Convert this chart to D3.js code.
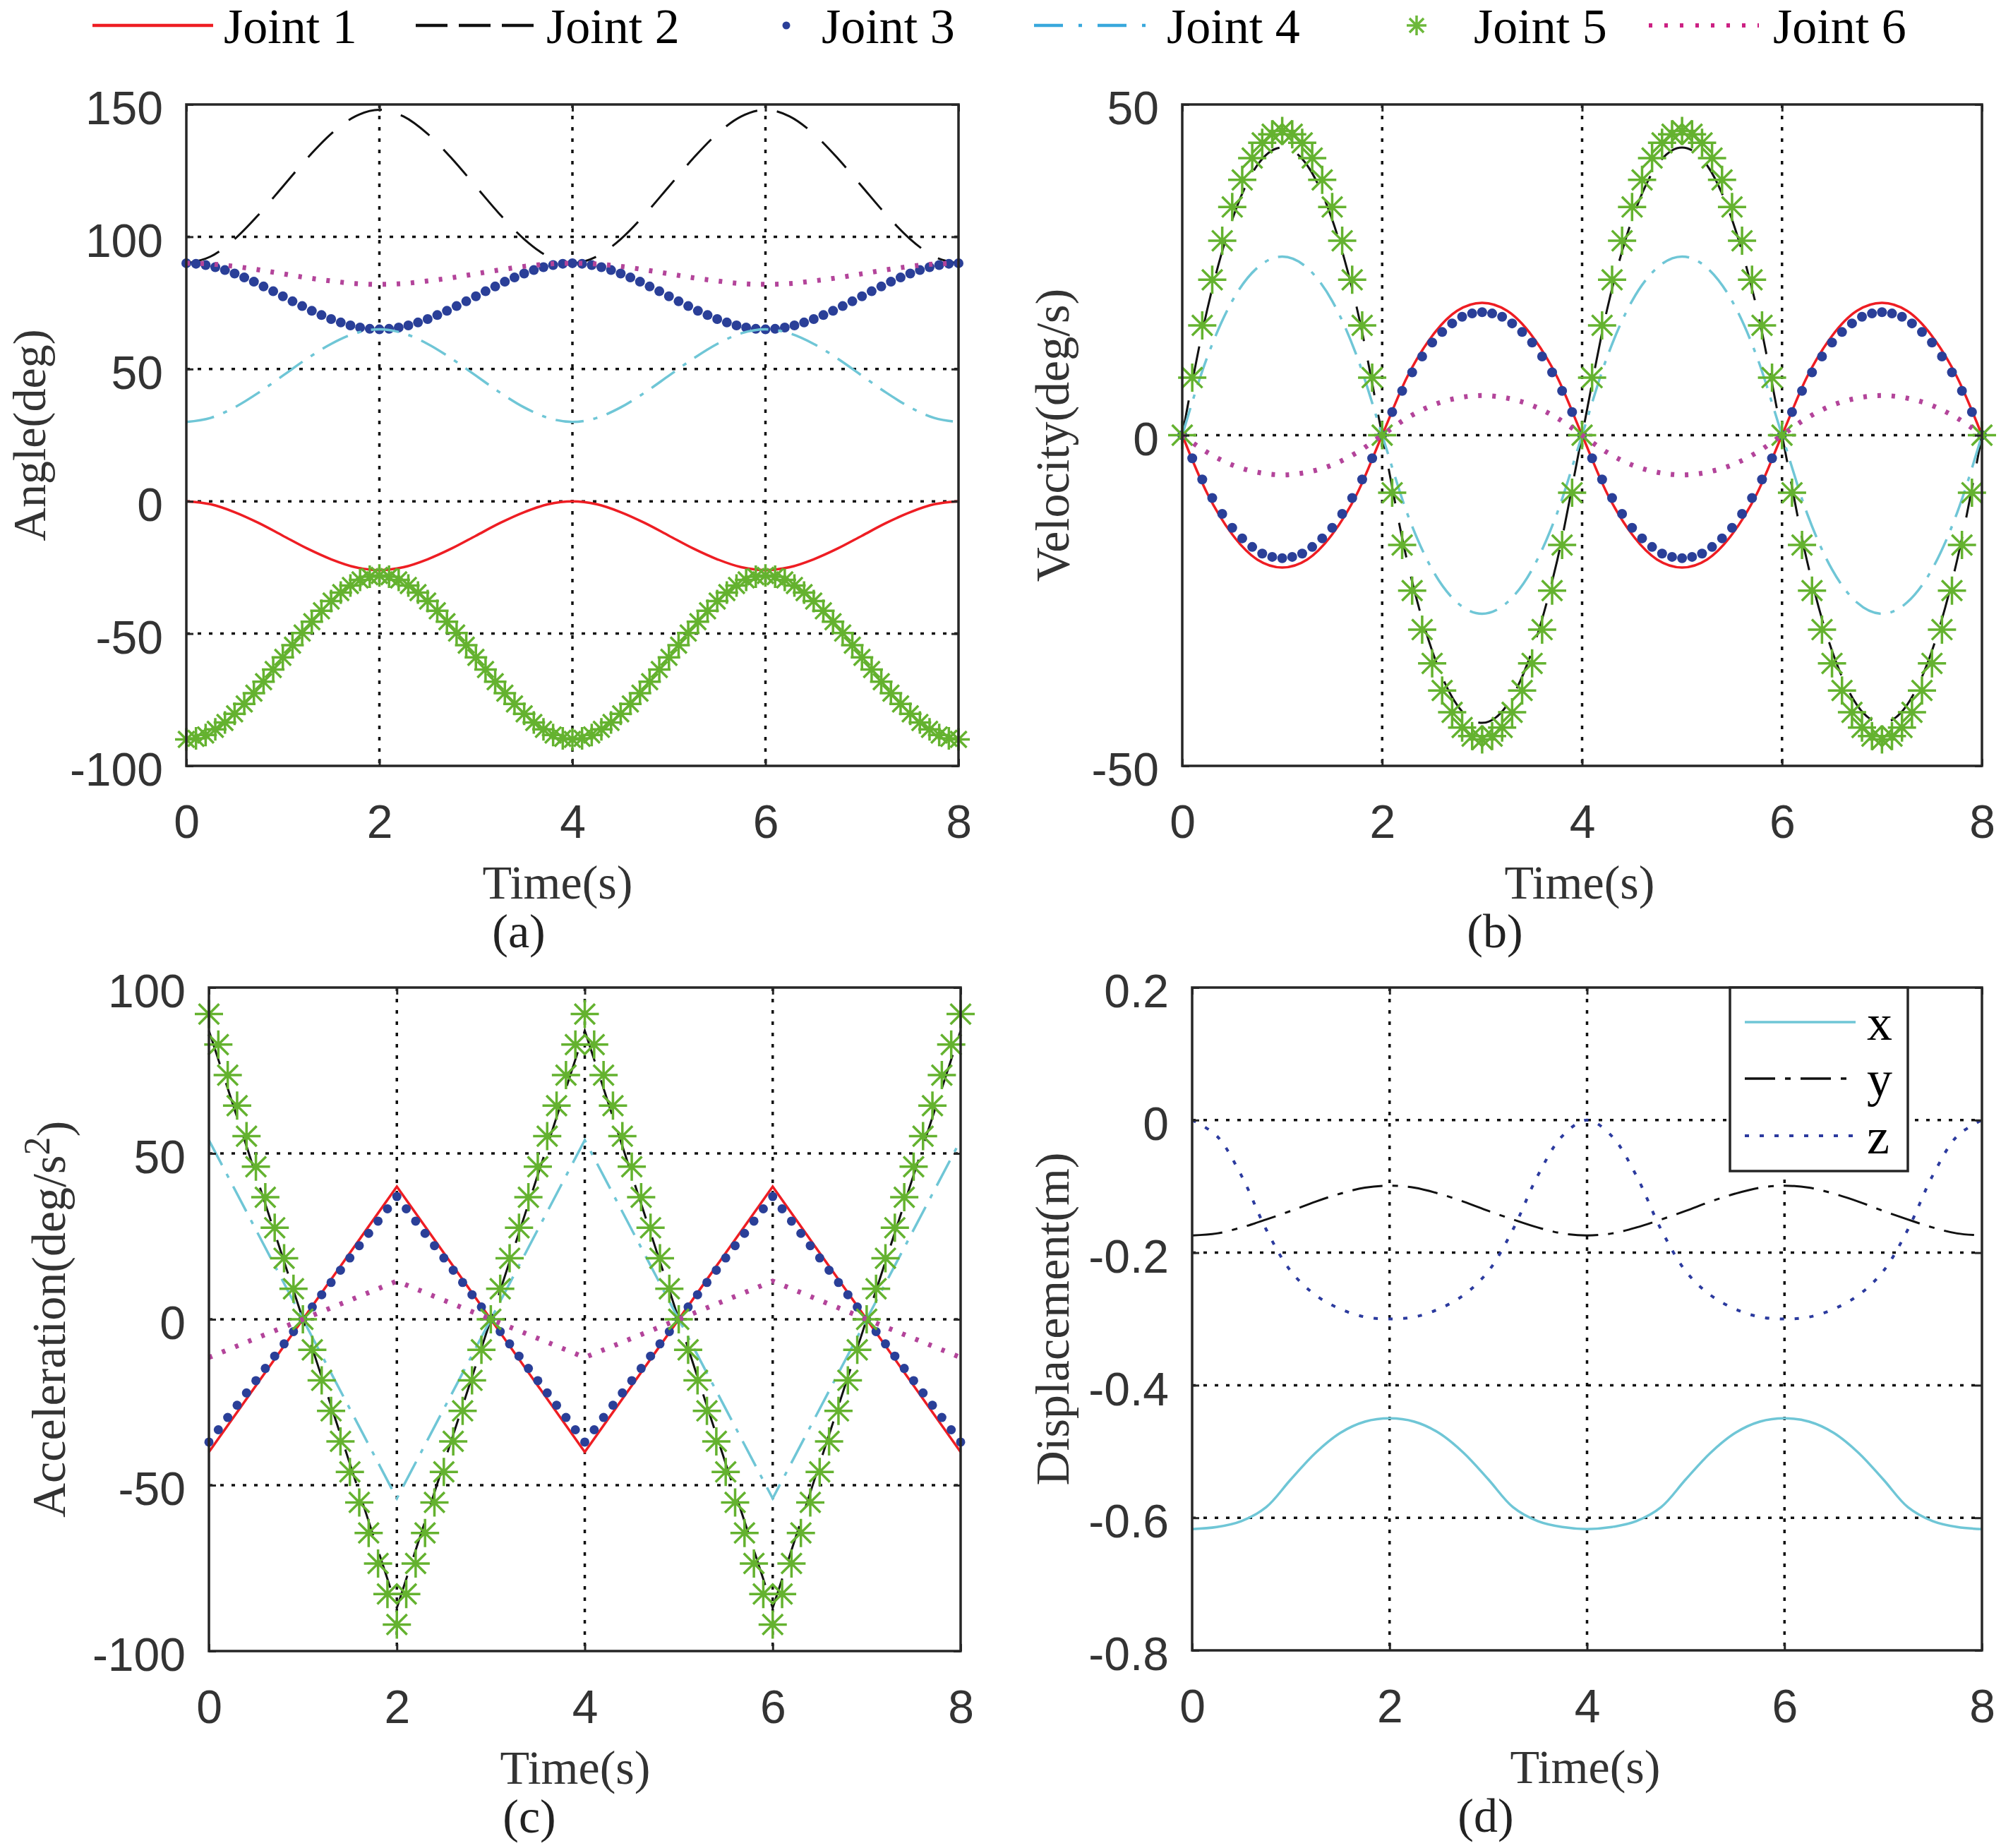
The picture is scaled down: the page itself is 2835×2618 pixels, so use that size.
<!DOCTYPE html>
<html><head><meta charset="utf-8">
<script src="https://cdn.jsdelivr.net/npm/d3@7"></script>
<style>body{margin:0;background:#fff}</style>
</head><body>
<svg id="chart" width="2835" height="2618" xmlns="http://www.w3.org/2000/svg"></svg>
<script>
// ---------------- DATA ----------------
const timeFine = [0,0.1,0.2,0.3,0.4,0.5,0.6,0.7,0.8,0.9,1,1.1,1.2,1.3,1.4,1.5,1.6,1.7,1.8,1.9,2,2.1,2.2,2.3,2.4,2.5,2.6,2.7,2.8,2.9,3,3.1,3.2,3.3,3.4,3.5,3.6,3.7,3.8,3.9,4,4.1,4.2,4.3,4.4,4.5,4.6,4.7,4.8,4.9,5,5.1,5.2,5.3,5.4,5.5,5.6,5.7,5.8,5.9,6,6.1,6.2,6.3,6.4,6.5,6.6,6.7,6.8,6.9,7,7.1,7.2,7.3,7.4,7.5,7.6,7.7,7.8,7.9,8];
const timeCoarse = [0,0.25,0.5,0.75,1,1.25,1.5,1.75,2,2.25,2.5,2.75,3,3.25,3.5,3.75,4,4.25,4.5,4.75,5,5.25,5.5,5.75,6,6.25,6.5,6.75,7,7.25,7.5,7.75,8];
const timeCorners = [0,2,4,6,8];

const xTicks = [0,2,4,6,8];
const angleTicks = [-100,-50,0,50,100,150];
const velocityTicks = [-50,0,50];
const accelTicks = [-100,-50,0,50,100];
const dispTicks = [-0.8,-0.6,-0.4,-0.2,0,0.2];

const jointNames = ["Joint 1","Joint 2","Joint 3","Joint 4","Joint 5","Joint 6"];
const dispNames = ["x","y","z"];
const panelTags = ["(a)","(b)","(c)","(d)"];

// (a) Angle (deg)
const angleJ1 = [0,-1.1,-4.1,-8.2,-13.0,-17.8,-21.9,-24.9,-26.0,-24.9,-21.9,-17.8,-13.0,-8.2,-4.1,-1.1,0,-1.1,-4.1,-8.2,-13.0,-17.8,-21.9,-24.9,-26.0,-24.9,-21.9,-17.8,-13.0,-8.2,-4.1,-1.1,0];
const angleJ2 = [90,92.5,99.1,108.4,119.0,129.6,138.9,145.5,148.0,145.5,138.9,129.6,119.0,108.4,99.1,92.5,90,92.5,99.1,108.4,119.0,129.6,138.9,145.5,148.0,145.5,138.9,129.6,119.0,108.4,99.1,92.5,90];
const angleJ3 = [90,89.8,89.3,88.5,87.4,86.1,84.6,83.0,81.2,79.4,77.5,75.6,73.8,72.0,70.4,68.9,67.6,66.5,65.7,65.2,65.0,
  65.2,65.7,66.5,67.6,68.9,70.4,72.0,73.8,75.6,77.5,79.4,81.2,83.0,84.6,86.1,87.4,88.5,89.3,89.8,90,
  89.8,89.3,88.5,87.4,86.1,84.6,83.0,81.2,79.4,77.5,75.6,73.8,72.0,70.4,68.9,67.6,66.5,65.7,65.2,65.0,
  65.2,65.7,66.5,67.6,68.9,70.4,72.0,73.8,75.6,77.5,79.4,81.2,83.0,84.6,86.1,87.4,88.5,89.3,89.8,90];
const angleJ4 = [30,31.5,35.5,41.1,47.5,53.9,59.5,63.5,65.0,63.5,59.5,53.9,47.5,41.1,35.5,31.5,30,31.5,35.5,41.1,47.5,53.9,59.5,63.5,65.0,63.5,59.5,53.9,47.5,41.1,35.5,31.5,30];
const angleJ5 = [-90,-89.6,-88.3,-86.2,-83.6,-80.3,-76.6,-72.5,-68.2,-63.6,-59.0,-54.4,-49.8,-45.5,-41.4,-37.7,-34.5,-31.8,-29.7,-28.5,-28.0,
  -28.5,-29.7,-31.8,-34.5,-37.7,-41.4,-45.5,-49.8,-54.4,-59.0,-63.6,-68.2,-72.5,-76.6,-80.3,-83.6,-86.2,-88.3,-89.6,-90,
  -89.6,-88.3,-86.2,-83.6,-80.3,-76.6,-72.5,-68.2,-63.6,-59.0,-54.4,-49.8,-45.5,-41.4,-37.7,-34.5,-31.8,-29.7,-28.5,-28.0,
  -28.5,-29.7,-31.8,-34.5,-37.7,-41.4,-45.5,-49.8,-54.4,-59.0,-63.6,-68.2,-72.5,-76.6,-80.3,-83.6,-86.2,-88.3,-89.6,-90];
const angleJ6 = [90,89.7,88.8,87.5,86.0,84.5,83.3,82.3,82.0,82.3,83.3,84.5,86.0,87.5,88.8,89.7,90,89.7,88.8,87.5,86.0,84.5,83.3,82.3,82.0,82.3,83.3,84.5,86.0,87.5,88.8,89.7,90];

// (b) Velocity (deg/s)
const velJ1 = [0,-8.8,-15.0,-18.8,-20.0,-18.8,-15.0,-8.8,0,8.8,15.0,18.8,20.0,18.8,15.0,8.8,0,-8.8,-15.0,-18.8,-20.0,-18.8,-15.0,-8.8,0,8.8,15.0,18.8,20.0,18.8,15.0,8.8,0];
const velJ2 = [0,19.0,32.6,40.8,43.5,40.8,32.6,19.0,0,-19.0,-32.6,-40.8,-43.5,-40.8,-32.6,-19.0,0,19.0,32.6,40.8,43.5,40.8,32.6,19.0,0,-19.0,-32.6,-40.8,-43.5,-40.8,-32.6,-19.0,0];
const velJ3 = [0,-3.5,-6.7,-9.5,-11.9,-14.0,-15.6,-16.9,-17.9,-18.4,-18.6,-18.4,-17.9,-16.9,-15.6,-14.0,-11.9,-9.5,-6.7,-3.5,0,
  3.5,6.7,9.5,11.9,14.0,15.6,16.9,17.9,18.4,18.6,18.4,17.9,16.9,15.6,14.0,11.9,9.5,6.7,3.5,0,
  -3.5,-6.7,-9.5,-11.9,-14.0,-15.6,-16.9,-17.9,-18.4,-18.6,-18.4,-17.9,-16.9,-15.6,-14.0,-11.9,-9.5,-6.7,-3.5,0,
  3.5,6.7,9.5,11.9,14.0,15.6,16.9,17.9,18.4,18.6,18.4,17.9,16.9,15.6,14.0,11.9,9.5,6.7,3.5,0];
const velJ4 = [0,11.8,20.3,25.3,27.0,25.3,20.3,11.8,0,-11.8,-20.3,-25.3,-27.0,-25.3,-20.3,-11.8,0,11.8,20.3,25.3,27.0,25.3,20.3,11.8,0,-11.8,-20.3,-25.3,-27.0,-25.3,-20.3,-11.8,0];
const velJ5 = [0,8.7,16.6,23.5,29.4,34.5,38.6,41.9,44.2,45.5,46.0,45.5,44.2,41.9,38.6,34.5,29.4,23.5,16.6,8.7,0,
  -8.7,-16.6,-23.5,-29.4,-34.5,-38.6,-41.9,-44.2,-45.5,-46.0,-45.5,-44.2,-41.9,-38.6,-34.5,-29.4,-23.5,-16.6,-8.7,0,
  8.7,16.6,23.5,29.4,34.5,38.6,41.9,44.2,45.5,46.0,45.5,44.2,41.9,38.6,34.5,29.4,23.5,16.6,8.7,0,
  -8.7,-16.6,-23.5,-29.4,-34.5,-38.6,-41.9,-44.2,-45.5,-46.0,-45.5,-44.2,-41.9,-38.6,-34.5,-29.4,-23.5,-16.6,-8.7,0];
const velJ6 = [0,-2.6,-4.5,-5.6,-6.0,-5.6,-4.5,-2.6,0,2.6,4.5,5.6,6.0,5.6,4.5,2.6,0,-2.6,-4.5,-5.6,-6.0,-5.6,-4.5,-2.6,0,2.6,4.5,5.6,6.0,5.6,4.5,2.6,0];

// (c) Acceleration (deg/s^2)
const accJ1 = [-40,40,-40,40,-40];
const accJ2 = [87,-87,87,-87,87];
const accJ3 = [-37.0,-33.3,-29.6,-25.9,-22.2,-18.5,-14.8,-11.1,-7.4,-3.7,0,3.7,7.4,11.1,14.8,18.5,22.2,25.9,29.6,33.3,37.0,
  33.3,29.6,25.9,22.2,18.5,14.8,11.1,7.4,3.7,0,-3.7,-7.4,-11.1,-14.8,-18.5,-22.2,-25.9,-29.6,-33.3,-37.0,
  -33.3,-29.6,-25.9,-22.2,-18.5,-14.8,-11.1,-7.4,-3.7,0,3.7,7.4,11.1,14.8,18.5,22.2,25.9,29.6,33.3,37.0,
  33.3,29.6,25.9,22.2,18.5,14.8,11.1,7.4,3.7,0,-3.7,-7.4,-11.1,-14.8,-18.5,-22.2,-25.9,-29.6,-33.3,-37.0];
const accJ4 = [54,-54,54,-54,54];
const accJ5 = [92,82.8,73.6,64.4,55.2,46.0,36.8,27.6,18.4,9.2,0,-9.2,-18.4,-27.6,-36.8,-46.0,-55.2,-64.4,-73.6,-82.8,-92,
  -82.8,-73.6,-64.4,-55.2,-46.0,-36.8,-27.6,-18.4,-9.2,0,9.2,18.4,27.6,36.8,46.0,55.2,64.4,73.6,82.8,92,
  82.8,73.6,64.4,55.2,46.0,36.8,27.6,18.4,9.2,0,-9.2,-18.4,-27.6,-36.8,-46.0,-55.2,-64.4,-73.6,-82.8,-92,
  -82.8,-73.6,-64.4,-55.2,-46.0,-36.8,-27.6,-18.4,-9.2,0,9.2,18.4,27.6,36.8,46.0,55.2,64.4,73.6,82.8,92];
const accJ6 = [-11.5,11.5,-11.5,11.5,-11.5];

// (d) Displacement (m)
const dispX = [-0.617,-0.614,-0.605,-0.584,-0.542,-0.502,-0.472,-0.455,-0.450,-0.455,-0.472,-0.502,-0.542,-0.584,-0.605,-0.614,-0.617,-0.614,-0.605,-0.584,-0.542,-0.502,-0.472,-0.455,-0.450,-0.455,-0.472,-0.502,-0.542,-0.584,-0.605,-0.614,-0.617];
const dispY = [-0.174,-0.171,-0.162,-0.150,-0.137,-0.123,-0.111,-0.102,-0.099,-0.102,-0.111,-0.123,-0.137,-0.150,-0.162,-0.171,-0.174,-0.171,-0.162,-0.150,-0.137,-0.123,-0.111,-0.102,-0.099,-0.102,-0.111,-0.123,-0.137,-0.150,-0.162,-0.171,-0.174];
const dispZ = [0,-0.024,-0.084,-0.165,-0.228,-0.264,-0.285,-0.297,-0.300,-0.297,-0.285,-0.264,-0.228,-0.165,-0.084,-0.024,0,-0.024,-0.084,-0.165,-0.228,-0.264,-0.285,-0.297,-0.300,-0.297,-0.285,-0.264,-0.228,-0.165,-0.084,-0.024,0];

// ---------------- STYLE ----------------
const C = {
  red:"#ee1d23", black:"#111111", blue:"#2a3f98", cyan:"#6fc6d6", green:"#64b22f", magenta:"#b3449a",
  zblue:"#2b3a9e", frame:"#262626", tick:"#333333"
};
const SANS = "'Liberation Sans', Arial, Helvetica, sans-serif";
const SERIF = "'Liberation Serif', 'Times New Roman', Times, serif";
const DASH = "50,28", DASHDOT = "40,14,6,14", DOTS = "5,15";

const svg = d3.select("#chart");
svg.append("rect").attr("width",2835).attr("height",2618).attr("fill","#fff");

function starPath(r){
  const a = r*0.72;
  return `M${-r},0L${r},0M0,${-r}L0,${r}M${-a},${-a}L${a},${a}M${-a},${a}L${a},${-a}`;
}

function drawPanel(p){
  const [x0,x1,y0,y1] = p.box;
  const x = d3.scaleLinear().domain([0,8]).range([x0,x1]);
  const y = d3.scaleLinear().domain(p.yDomain).range([y1,y0]);
  const g = svg.append("g");

  // grid
  const gridStyle = s => s.attr("stroke","#111").attr("stroke-width",3.5).attr("stroke-dasharray","5,11");
  g.append("g").selectAll("line").data(xTicks.filter(v=>v>0&&v<8)).join("line")
    .attr("x1",d=>x(d)).attr("x2",d=>x(d)).attr("y1",y0).attr("y2",y1).call(gridStyle);
  g.append("g").selectAll("line").data(p.yTicks.filter(v=>v>p.yDomain[0]&&v<p.yDomain[1])).join("line")
    .attr("x1",x0).attr("x2",x1).attr("y1",d=>y(d)).attr("y2",d=>y(d)).call(gridStyle);

  // series
  p.series.forEach(s=>{
    if(s.type==="line"){
      const line = d3.line().x((d,i)=>x(s.t[i])).y(d=>y(d)).curve(s.curve||d3.curveMonotoneX);
      g.append("path").datum(s.v).attr("d",line).attr("fill","none")
        .attr("stroke",s.color).attr("stroke-width",s.w||3)
        .attr("stroke-dasharray",s.dash||null).attr("stroke-linecap","butt");
    } else if(s.type==="dots"){
      g.append("g").selectAll("circle").data(s.v).join("circle")
        .attr("cx",(d,i)=>x(s.t[i])).attr("cy",d=>y(d)).attr("r",s.r).attr("fill",s.color);
    } else if(s.type==="stars"){
      g.append("g").selectAll("path").data(s.v).join("path")
        .attr("transform",(d,i)=>`translate(${x(s.t[i])},${y(d)})`)
        .attr("d",starPath(s.r)).attr("fill","none").attr("stroke",s.color).attr("stroke-width",3.5);
    }
  });

  // axes
  const fmt = d=>String(d);
  const styleAxis = (sel, isLeft)=>{
    sel.select(".domain").remove();
    sel.selectAll(".tick line").attr("stroke",C.frame).attr("stroke-width",3);
    sel.selectAll(".tick text").attr("font-family",SANS).attr("font-size",66).attr("fill",C.tick);
    if(isLeft) sel.selectAll(".tick text").attr("dy","0.42em");
  };
  g.append("g").attr("transform",`translate(0,${y1})`)
    .call(d3.axisBottom(x).tickValues(xTicks).tickSizeInner(-10).tickSizeOuter(0).tickPadding(55).tickFormat(fmt))
    .call(s=>styleAxis(s,false));
  g.append("g").attr("transform",`translate(0,${y0})`)
    .call(d3.axisTop(x).tickValues(xTicks).tickSizeInner(-10).tickSizeOuter(0).tickFormat(""))
    .call(s=>styleAxis(s,false));
  g.append("g").attr("transform",`translate(${x0},0)`)
    .call(d3.axisLeft(y).tickValues(p.yTicks).tickSizeInner(-10).tickSizeOuter(0).tickPadding(33).tickFormat(fmt))
    .call(s=>styleAxis(s,true));
  g.append("g").attr("transform",`translate(${x1},0)`)
    .call(d3.axisRight(y).tickValues(p.yTicks).tickSizeInner(-10).tickSizeOuter(0).tickFormat(""))
    .call(s=>styleAxis(s,false));

  // frame
  g.append("rect").attr("x",x0).attr("y",y0).attr("width",x1-x0).attr("height",y1-y0)
    .attr("fill","none").attr("stroke",C.frame).attr("stroke-width",3.5);

  // labels
  g.append("text").attr("x",p.xLabelX).attr("y",y1+188).attr("text-anchor","middle")
    .attr("font-family",SERIF).attr("font-size",68).attr("fill","#333").text("Time(s)");
  g.append("text").attr("x",p.tagX).attr("y",y1+257).attr("text-anchor","middle")
    .attr("font-family",SERIF).attr("font-size",68).attr("fill","#222").text(p.tag);
  const yl = g.append("text").attr("transform",`translate(${p.yLabelX},${(y0+y1)/2}) rotate(-90)`)
    .attr("text-anchor","middle").attr("font-family",SERIF).attr("font-size",p.yLabelSize||68).attr("fill","#333");
  if(p.yLabelSup){
    yl.append("tspan").text(p.yLabel);
    yl.append("tspan").attr("dy","-0.42em").attr("font-size",52).text(p.yLabelSup);
    yl.append("tspan").attr("dy","0.42em").text(p.yLabelEnd);
  } else yl.text(p.yLabel);
  return {g,x,y};
}

// (a)
drawPanel({
  box:[264,1358,148,1085], yDomain:[-100,150], yTicks:angleTicks,
  xLabelX:790, tagX:735, tag:panelTags[0], yLabelX:64, yLabelSize:66, yLabel:"Angle(deg)",
  series:[
    {type:"line",t:timeCoarse,v:angleJ1,color:C.red,w:3.5},
    {type:"line",t:timeCoarse,v:angleJ2,color:C.black,w:3,dash:DASH},
    {type:"dots",t:timeFine,v:angleJ3,color:C.blue,r:7},
    {type:"line",t:timeCoarse,v:angleJ4,color:C.cyan,w:3.5,dash:DASHDOT},
    {type:"stars",t:timeFine,v:angleJ5,color:C.green,r:16},
    {type:"line",t:timeCoarse,v:angleJ6,color:C.magenta,w:7,dash:DOTS}
  ]
});
// (b)
drawPanel({
  box:[1675,2808,148,1085], yDomain:[-50,50], yTicks:velocityTicks,
  xLabelX:2238, tagX:2118, tag:panelTags[1], yLabelX:1514, yLabel:"Velocity(deg/s)",
  series:[
    {type:"line",t:timeCoarse,v:velJ1,color:C.red,w:3.5},
    {type:"line",t:timeCoarse,v:velJ2,color:C.black,w:3,dash:DASH},
    {type:"dots",t:timeFine,v:velJ3,color:C.blue,r:7},
    {type:"line",t:timeCoarse,v:velJ4,color:C.cyan,w:3.5,dash:DASHDOT},
    {type:"stars",t:timeFine,v:velJ5,color:C.green,r:20},
    {type:"line",t:timeCoarse,v:velJ6,color:C.magenta,w:7,dash:DOTS}
  ]
});
// (c)
drawPanel({
  box:[296,1361,1399,2339], yDomain:[-100,100], yTicks:accelTicks,
  xLabelX:815, tagX:750, tag:panelTags[2], yLabelX:92, yLabel:"Acceleration(deg/s", yLabelSup:"2", yLabelEnd:")",
  series:[
    {type:"line",t:timeCorners,v:accJ1,color:C.red,w:3.5,curve:d3.curveLinear},
    {type:"line",t:timeCorners,v:accJ2,color:C.black,w:3,dash:DASH,curve:d3.curveLinear},
    {type:"dots",t:timeFine,v:accJ3,color:C.blue,r:6.5},
    {type:"line",t:timeCorners,v:accJ4,color:C.cyan,w:3.5,dash:DASHDOT,curve:d3.curveLinear},
    {type:"stars",t:timeFine,v:accJ5,color:C.green,r:20},
    {type:"line",t:timeCorners,v:accJ6,color:C.magenta,w:7,dash:DOTS,curve:d3.curveLinear}
  ]
});
// (d)
drawPanel({
  box:[1689,2808,1399,2338], yDomain:[-0.8,0.2], yTicks:dispTicks,
  xLabelX:2246, tagX:2105, tag:panelTags[3], yLabelX:1514, yLabel:"Displacement(m)",
  series:[
    {type:"line",t:timeCoarse,v:dispX,color:C.cyan,w:3.5,curve:d3.curveCatmullRom},
    {type:"line",t:timeCoarse,v:dispY,color:C.black,w:3,dash:"43,14,8,14",curve:d3.curveCatmullRom},
    {type:"line",t:timeCoarse,v:dispZ,color:C.zblue,w:4,dash:"6,15",curve:d3.curveCatmullRom}
  ]
});
// legend (d)
{
  const lg = svg.append("g");
  lg.append("rect").attr("x",2451).attr("y",1399).attr("width",252).attr("height",260)
    .attr("fill","#fff").attr("stroke",C.frame).attr("stroke-width",3.5);
  const rows = [
    {name:dispNames[0], color:C.cyan, dash:null, w:3.5, yy:1448},
    {name:dispNames[1], color:C.black, dash:"43,14,8,14", w:3.5, yy:1528},
    {name:dispNames[2], color:C.zblue, dash:"6,15", w:4, yy:1609}
  ];
  rows.forEach(r=>{
    lg.append("line").attr("x1",2472).attr("x2",2629).attr("y1",r.yy).attr("y2",r.yy)
      .attr("stroke",r.color).attr("stroke-width",r.w).attr("stroke-dasharray",r.dash);
    lg.append("text").attr("x",2645).attr("y",r.yy+25).attr("font-family",SERIF)
      .attr("font-size",72).attr("fill","#000").text(r.name);
  });
}

// top legend
{
  const lg = svg.append("g");
  const ly = 36, ty = 61;
  const items = [
    {kind:"line", x1:131, x2:302, color:C.red, w:4.5, dash:null, tx:317},
    {kind:"line", x1:589, x2:756, color:"#111", w:4.5, dash:"45,16", tx:774},
    {kind:"dot", cx:1114, color:C.blue, tx:1164},
    {kind:"line", x1:1465, x2:1626, color:"#39a8dc", w:4.5, dash:"41,22,5,22", tx:1653},
    {kind:"star", cx:2007, color:"#6cb83a", tx:2088},
    {kind:"line", x1:2336, x2:2492, color:"#cc2183", w:6, dash:"5,17", tx:2512}
  ];
  items.forEach((it,i)=>{
    if(it.kind==="line"){
      lg.append("line").attr("x1",it.x1).attr("x2",it.x2).attr("y1",ly).attr("y2",ly)
        .attr("stroke",it.color).attr("stroke-width",it.w).attr("stroke-dasharray",it.dash);
    } else if(it.kind==="dot"){
      lg.append("circle").attr("cx",it.cx).attr("cy",ly).attr("r",5.5).attr("fill",it.color);
    } else {
      lg.append("path").attr("transform",`translate(${it.cx},${ly})`).attr("d",starPath(14))
        .attr("fill","none").attr("stroke",it.color).attr("stroke-width",3.5);
    }
    lg.append("text").attr("x",it.tx).attr("y",ty).attr("font-family",SERIF)
      .attr("font-size",70).attr("fill","#000").text(jointNames[i]);
  });
}
</script>
</body></html>
